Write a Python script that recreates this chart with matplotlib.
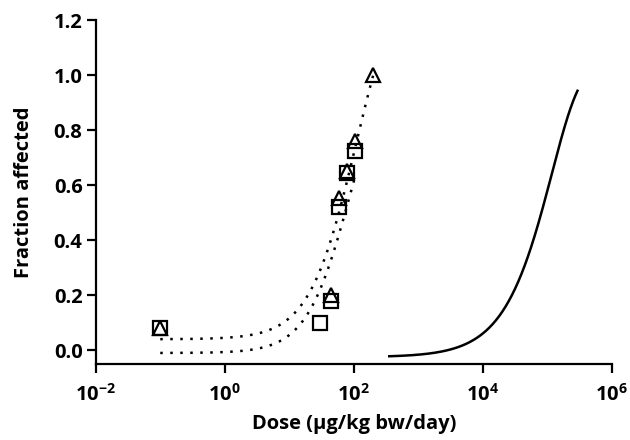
import numpy as np
import matplotlib
matplotlib.use("Agg")
import matplotlib.pyplot as plt

plt.rcParams['font.family'] = ['Open Sans', 'DejaVu Sans']
plt.rcParams['font.weight'] = 'bold'
plt.rcParams['mathtext.fontset'] = 'custom'
plt.rcParams['mathtext.rm'] = 'Open Sans:bold'
plt.rcParams['mathtext.bf'] = 'Open Sans:bold'

FS = 14.5

# Observed responses (dose in ug/kg bw/day)
square_dose = [0.1, 30, 45, 60, 80, 105]
square_frac = [0.08, 0.10, 0.18, 0.52, 0.645, 0.725]
triangle_dose = [0.1, 45, 60, 80, 105, 200]
triangle_frac = [0.08, 0.20, 0.555, 0.65, 0.76, 1.0]

# Hill fits to the two observed series: (bottom, top, ED50, slope, first dose, last dose)
fit_triangle = (0.04, 1.46, 108.7, 1.2, 0.1, 200)
fit_square = (-0.01, 1.125, 86.0, 1.3, 0.1, 105)
# Exponential reference curve: (baseline, plateau rise, dose constant, first dose, last dose)
fit_reference = (-0.025, 1.055, 1.18e5, 340, 3.0e5)

x_ticks = [1e-2, 1e0, 1e2, 1e4, 1e6]
x_tick_labels = [r'$\mathbf{10^{-2}}$', r'$\mathbf{10^{0}}$', r'$\mathbf{10^{2}}$',
                 r'$\mathbf{10^{4}}$', r'$\mathbf{10^{6}}$']
y_ticks = [0.0, 0.2, 0.4, 0.6, 0.8, 1.0, 1.2]


def hill_curve(params, n=300):
    bottom, top, ed50, slope, lo, hi = params
    d = np.logspace(np.log10(lo), np.log10(hi), n)
    return d, bottom + (top - bottom) / (1.0 + (ed50 / d) ** slope)


def exp_curve(params, n=300):
    base, rise, scale, lo, hi = params
    d = np.logspace(np.log10(lo), np.log10(hi), n)
    return d, base + rise * (1.0 - np.exp(-d / scale))


fig = plt.figure(figsize=(6.3, 4.4), dpi=100)
ax = fig.add_axes([0.152, 0.1727, 0.819, 0.7818])

dot = (0, (1, 3))
for params in (fit_triangle, fit_square):
    d, y = hill_curve(params)
    ax.plot(d, y, color='black', lw=1.8, linestyle=dot, zorder=2)
d, y = exp_curve(fit_reference)
ax.plot(d, y, color='black', lw=1.8, solid_capstyle='butt', zorder=2)

ax.plot(square_dose, square_frac, linestyle='none', marker='s', markersize=10.5,
        markerfacecolor='none', markeredgecolor='black', markeredgewidth=1.6, zorder=3)
ax.plot(triangle_dose, triangle_frac, linestyle='none', marker='^', markersize=10.5,
        markerfacecolor='none', markeredgecolor='black', markeredgewidth=1.6, zorder=4)

ax.set_xscale('log')
ax.set_xlim(1e-2, 1e6)
ax.set_ylim(-0.05, 1.2)
ax.set_xticks(x_ticks)
ax.set_xticklabels(x_tick_labels)
ax.minorticks_off()
ax.set_yticks(y_ticks)
ax.set_yticklabels([f'{v:.1f}' for v in y_ticks])

for side in ('top', 'right'):
    ax.spines[side].set_visible(False)
for side in ('left', 'bottom'):
    ax.spines[side].set_linewidth(1.6)
ax.tick_params(axis='both', direction='out', length=6.5, width=1.6,
               labelsize=FS, colors='black')
ax.tick_params(axis='y', pad=3)
ax.tick_params(axis='x', pad=8)
plt.setp(ax.get_yticklabels(), fontweight='bold')
plt.setp(ax.get_xticklabels(), fontweight='bold')

ax.set_ylabel('Fraction affected', fontsize=FS, fontweight='bold', labelpad=14)
ax.set_xlabel('Dose (μg/kg bw/day)', fontsize=FS, fontweight='bold', labelpad=6)

fig.savefig('out.png', dpi=100)
